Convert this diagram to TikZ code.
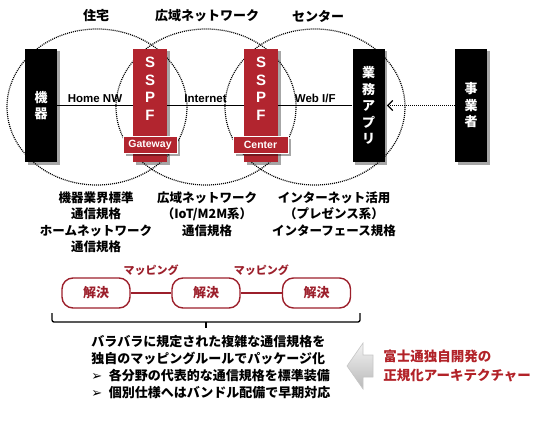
\documentclass[tikz,border=0pt]{standalone}
\usepackage{fontspec}
\setmainfont{Noto Sans CJK JP}
\newfontfamily\latinfont{Liberation Sans}
\newfontfamily\symfont{DejaVu Sans}
\usetikzlibrary{arrows.meta,shadows,positioning}

\definecolor{sspfred}{HTML}{B2252F}
\definecolor{mapred}{HTML}{9C1F2B}
\definecolor{notered}{HTML}{B22228}

\tikzset{
  zone/.style={line width=1.2pt, dash pattern=on 1pt off 1pt},
  boxshadow/.style={drop shadow={shadow xshift=2.5pt, shadow yshift=-2.5pt, opacity=.35, fill=black}},
  blackbox/.style={fill=black, text=white, minimum width=32pt, minimum height=113pt,
    inner sep=0pt, align=center, boxshadow, font=\bfseries\fontsize{13}{16.5}\selectfont},
  redbox/.style={fill=sspfred, minimum width=34pt, minimum height=113pt, inner sep=0pt, boxshadow},
  sspftext/.style={text=white, align=center, inner sep=0pt,
    font=\latinfont\bfseries\fontsize{15}{17.5}\selectfont},
  tagbox/.style={fill=sspfred, draw=white, line width=0.8pt, text=white, minimum height=17pt,
    inner sep=2pt, boxshadow, font=\latinfont\bfseries\fontsize{10.5}{12}\selectfont},
  link/.style={line width=1.3pt},
  linklabel/.style={above=1pt, inner sep=1pt, font=\latinfont\bfseries\fontsize{11.5}{14}\selectfont},
  zonelabel/.style={font=\bfseries\fontsize{13}{15}\selectfont, inner sep=0pt},
  stdtext/.style={anchor=north, align=center, inner sep=0pt,
    font=\bfseries\fontsize{12.5}{16.5}\selectfont},
  mapbox/.style={draw=mapred, line width=1.4pt, rounded corners=11pt, text=mapred,
    minimum width=68pt, minimum height=30pt, font=\bfseries\fontsize{13}{15}\selectfont},
  maplink/.style={draw=mapred, line width=1.4pt},
  maplabel/.style={above=16pt, inner sep=1pt, text=mapred, font=\bfseries\fontsize{11}{13}\selectfont}
}

\begin{document}
\begin{tikzpicture}[x=1pt, y=-1pt, thick]
\useasboundingbox (0,0) rectangle (540,420);

% Zones
\draw[zone] (97,107) ellipse [x radius=90, y radius=78];
\draw[zone] (206,107) ellipse [x radius=90, y radius=78];
\draw[zone] (315,107) ellipse [x radius=90, y radius=78];

\node[zonelabel] (home)   at (96,16)  {住宅};
\node[zonelabel] (wan)    at (207,16) {広域ネットワーク};
\node[zonelabel] (center) at (318,16) {センター};

% Boxes
\node[blackbox] (kiki) at (41,105.5) {機\\器};
\node[redbox]   (gw)   at (150,105.5) {};
\node[sspftext] (gwsspf) at (150,89) {S\\S\\P\\F};
\node[tagbox, minimum width=54pt] (gwtag) at (150,144.5) {Gateway};
\node[redbox]   (ctr)    at (261,105.5) {};
\node[sspftext] (ctrsspf) at (261,89) {S\\S\\P\\F};
\node[tagbox, minimum width=55pt] (ctrtag) at (260.5,144.5) {Center};
\node[blackbox] (app)    at (368.5,105.5) {業\\務\\ア\\プ\\リ};
\node[blackbox] (jigyo)  at (471,105.5) {事\\業\\者};

% Links
\draw[link] (kiki) -- node[linklabel] (homenw) {Home NW} (gw);
\draw[link] (gw) -- node[linklabel] (inet) {Internet} (ctr);
\draw[link] (ctr) -- node[linklabel] (webif) {Web I/F} (app);
\draw[zone, -{Straight Barb[length=5pt, width=10pt, line width=1.2pt]}, shorten >=2pt] (jigyo) -- (app);

% Standards
\node[stdtext] (stdhome) at (96,191)  {機器業界標準\\通信規格\\ホームネットワーク\\通信規格};
\node[stdtext] (stdwan)  at (207,191) {広域ネットワーク\\（IoT/M2M系）\\通信規格};
\node[stdtext] (stdctr)  at (334,191) {インターネット活用\\（プレゼンス系）\\インターフェース規格};

% Mapping
\node[mapbox] (map1) at (96,293)  {解決};
\node[mapbox] (map2) at (206,293) {解決};
\node[mapbox] (map3) at (316.5,293) {解決};
\draw[maplink] (map1) -- node[maplabel] (mapA) {マッピング} (map2);
\draw[maplink] (map2) -- node[maplabel] (mapB) {マッピング} (map3);

% Brace
\coordinate (braceL) at (52,313);
\coordinate (braceR) at (360,313);
\coordinate (braceM) at (206,322);
\coordinate (braceT) at (206,328);
\draw[line width=1.3pt, rounded corners=2pt] (braceL) |- (braceM) -| (braceR);
\draw[line width=1.3pt] (braceM) -- (braceT);

% Summary
\node[anchor=north west, align=left, inner sep=0pt,
  font=\bfseries\fontsize{13}{17}\selectfont] (summary) at (91,335)
  {バラバラに規定された複雑な通信規格を\\
   独自のマッピングルールでパッケージ化\\
   {\symfont ➢}\enspace 各分野の代表的な通信規格を標準装備\\
   {\symfont ➢}\enspace 個別仕様へはバンドル配備で早期対応};

% Arrow
\shade[top color=gray!10, bottom color=gray!55, draw=gray!45, line width=0.6pt]
  (347,366) -- (363,343) -- (363,355) -- (373,355) -- (373,377) -- (363,377) -- (363,389) -- cycle;

\node[anchor=north west, align=left, inner sep=0pt, text=notered,
  font=\bfseries\fontsize{13.5}{19}\selectfont] (arch) at (383,350)
  {富士通独自開発の\\正規化アーキテクチャー};

\end{tikzpicture}
\end{document}
